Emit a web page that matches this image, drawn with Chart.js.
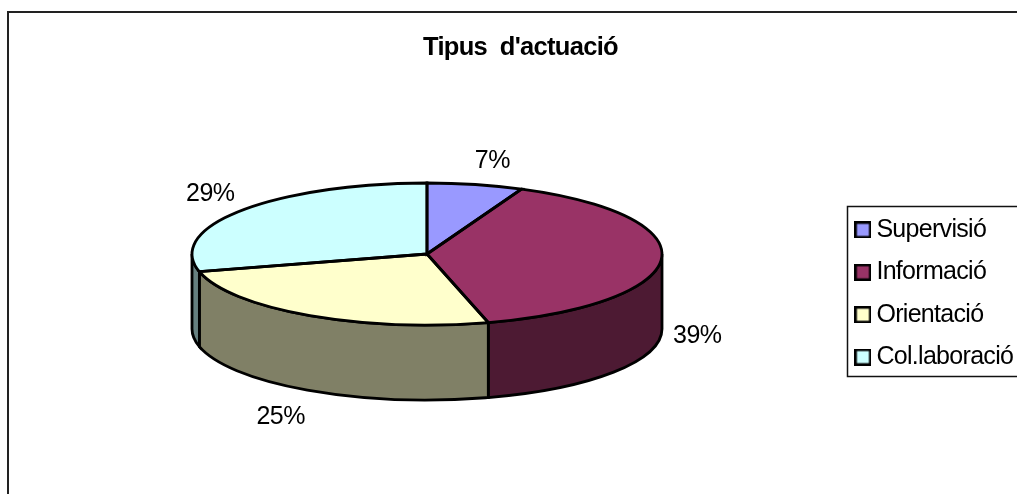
<!DOCTYPE html>
<html>
<head>
<meta charset="utf-8">
<title>Tipus d'actuació</title>
<script src="https://cdn.jsdelivr.net/npm/chart.js@4/dist/chart.umd.min.js"></script>
<style>
  html, body { margin: 0; padding: 0; background: #fff; overflow: hidden; }
  canvas { display: block; }
</style>
</head>
<body>
<canvas id="pieChart" width="1017" height="494"></canvas>
<script>
var categories = ["Supervisió", "Informació", "Orientació", "Col.laboració"];
// shares estimated from the slice edges, the labels show them rounded
var values = [6.6, 39.2, 25.2, 29];
var faceColors = ["#9999FF", "#993366", "#FFFFCC", "#CCFFFF"];
var wallColors = ["#4C4C80", "#4D1A33", "#808066", "#668080"];
// where each percent label sits, relative to the rim at the middle of its slice
var labelOffsets = [[17, -23], [36, 77], [-28, 102], [-31, -16]];

var centerX = 427, centerY = 254, radius = 235;
var squash = 71 / 235;   // the circle is flattened to look tilted
var depth = 75;
var pen = 2.8;

function swatch(color) {
    var c = document.createElement("canvas");
    c.width = 17;
    c.height = 17;
    var g = c.getContext("2d");
    g.fillStyle = color;
    g.fillRect(0, 0, 17, 17);
    g.strokeStyle = "#000";
    g.lineWidth = 2.5;
    g.strokeRect(1.25, 1.25, 14.5, 14.5);
    return c;
}
var swatches = faceColors.map(swatch);

var pie3d = {
    id: "pie3d",
    afterLayout: function (chart) {
        // fixed places for the pie, the title and the legend
        var area = chart.chartArea;
        area.left = centerX - radius;
        area.right = centerX + radius;
        area.top = centerY - radius;
        area.bottom = centerY + radius;
        area.width = radius * 2;
        area.height = radius * 2;

        chart.titleBlock.left = 0;
        chart.titleBlock.right = 1041;
        chart.titleBlock.top = 35.5;

        chart.legend.left = 844.5;
        chart.legend.right = 1017;
        chart.legend.top = 200;
        chart.legend.bottom = 392;
    },
    beforeDraw: function (chart) {
        var ctx = chart.ctx;
        ctx.letterSpacing = "-0.7px";
        // outer frame, only top and left show
        ctx.save();
        ctx.strokeStyle = "#222";
        ctx.lineWidth = 2;
        ctx.beginPath();
        ctx.moveTo(8, 494);
        ctx.lineTo(8, 12);
        ctx.lineTo(1017, 12);
        ctx.stroke();
        // legend frame
        ctx.lineWidth = 1.5;
        ctx.strokeStyle = "#111";
        ctx.strokeRect(847.5, 206.5, 180, 170);
        ctx.restore();
    },
    beforeDatasetDraw: function (chart) {
        var ctx = chart.ctx;
        var arcs = chart.getDatasetMeta(0).data;
        var ry = radius * squash;
        // side walls, only the front half of the rim is visible
        arcs.forEach(function (arc, i) {
            var a0 = Math.max(arc.startAngle, 0);
            var a1 = Math.min(arc.endAngle, Math.PI);
            if (a1 <= a0) return;
            ctx.beginPath();
            ctx.ellipse(arc.x, arc.y, arc.outerRadius, ry, 0, a0, a1);
            ctx.ellipse(arc.x, arc.y + depth, arc.outerRadius, ry, 0, a1, a0, true);
            ctx.closePath();
            ctx.fillStyle = wallColors[i];
            ctx.fill();
            ctx.strokeStyle = "#000";
            ctx.lineWidth = pen;
            ctx.stroke();
        });
        ctx.save();
        ctx.translate(centerX, centerY);
        ctx.scale(1, squash);
        ctx.translate(-centerX, -centerY);
    },
    afterDatasetDraw: function (chart) {
        var ctx = chart.ctx;
        ctx.restore();
        var arcs = chart.getDatasetMeta(0).data;
        var ry = radius * squash;
        arcs.forEach(function (arc, i) {
            // outline drawn untransformed so the pen stays even
            ctx.beginPath();
            ctx.moveTo(arc.x, arc.y);
            ctx.ellipse(arc.x, arc.y, arc.outerRadius, ry, 0, arc.startAngle, arc.endAngle);
            ctx.closePath();
            ctx.strokeStyle = "#000";
            ctx.lineWidth = pen;
            ctx.stroke();

            var mid = (arc.startAngle + arc.endAngle) / 2;
            ctx.save();
            ctx.font = '25px "Liberation Sans"';
            ctx.letterSpacing = "-0.5px";
            ctx.fillStyle = "#000";
            ctx.textAlign = "center";
            ctx.textBaseline = "middle";
            ctx.fillText(Math.round(values[i]) + "%",
                arc.x + arc.outerRadius * Math.cos(mid) + labelOffsets[i][0],
                arc.y + ry * Math.sin(mid) + labelOffsets[i][1]);
            ctx.restore();
        });
    }
};

Chart.defaults.font.family = '"Liberation Sans", Arial, sans-serif';

var ctx = document.getElementById("pieChart").getContext("2d");
var myPieChart = new Chart(ctx, {
    type: "pie",
    plugins: [pie3d],
    data: {
        labels: categories,
        datasets: [
            {
                data: values,
                backgroundColor: faceColors,
                borderWidth: 0,
                radius: radius,
                clip: false
            }
        ]
    },
    options: {
        responsive: false,
        animation: false,
        plugins: {
            title: {
                display: true,
                text: "Tipus  d'actuació",
                color: "#000",
                padding: 0,
                font: { size: 25.5, weight: "bold", lineHeight: 1 }
            },
            legend: {
                display: true,
                position: "right",
                align: "start",
                labels: {
                    color: "#000",
                    font: { size: 25, lineHeight: 1 },
                    padding: 17.4,
                    boxHeight: 17,
                    usePointStyle: true,
                    pointStyleWidth: 2,
                    generateLabels: function (chart) {
                        var items = Chart.overrides.pie.plugins.legend.labels.generateLabels(chart);
                        items.forEach(function (item, i) {
                            item.pointStyle = swatches[i];
                        });
                        return items;
                    }
                }
            },
            tooltip: { enabled: false }
        }
    }
});
</script>
</body>
</html>
